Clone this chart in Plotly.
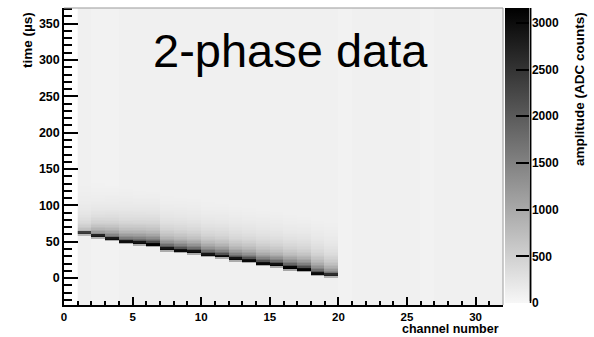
import numpy as np
import plotly.graph_objects as go

# ---------------- data ----------------
channels = list(range(1, 32))            # channel 0 has no data
baseline = [85, 65, 70, 90, 85, 90, 85, 90, 90, 85, 90, 90, 85, 90, 90,
            85, 90, 90, 90, 65, 90, 85, 90, 90, 85, 65, 90, 85, 90, 90, 85]
peak_channels = list(range(1, 20))
peak_time = [61.4, 56.9, 53.2, 50.0, 47.2, 44.5, 39.9, 37.1, 34.9, 31.6,
             28.4, 24.8, 22.5, 19.7, 16.5, 13.3, 10.1, 5.9, 2.8]
peak_amp = [2400, 2800, 2900, 2900, 2950, 3150, 2950, 2950, 2950, 2950,
            2950, 2950, 2950, 3000, 3000, 3150, 3050, 2950, 2600]
tail_scale = [0.45, 0.7, 0.85, 0.9, 1.0, 1.0, 1.0, 1.0, 1.0, 1.0,
              1.0, 1.0, 1.0, 1.0, 1.0, 1.0, 1.0, 1.0, 0.9]
# pulse shape (relative amplitude) per 2 us bin, starting 1 bin before the peak
pulse_profile = [0.3, 1.0, 0.95, 0.68, 0.56, 0.47, 0.4, 0.35, 0.3, 0.26, 0.23,
                 0.2, 0.18, 0.16, 0.14, 0.125, 0.11, 0.1, 0.09, 0.08, 0.072,
                 0.064, 0.057, 0.05, 0.045, 0.04, 0.035, 0.031, 0.027, 0.024,
                 0.021, 0.018, 0.015, 0.012, 0.01, 0.008, 0.006, 0.004]
time_bins = list(np.arange(-39.0, 380.0, 2.0))   # bin centres (us)

x_ticks = [0, 5, 10, 15, 20, 25, 30]
y_ticks = [0, 50, 100, 150, 200, 250, 300, 350]
cb_ticks = [0, 500, 1000, 1500, 2000, 2500, 3000]

# ---------------- build histogram ----------------
tb = np.array(time_bins)
z = np.zeros((len(time_bins), len(channels)))
for j, ch in enumerate(channels):
    z[:, j] = baseline[j]
for k, ch in enumerate(peak_channels):
    j = channels.index(ch)
    pbin = int(np.argmin(np.abs(tb - peak_time[k])))
    for o, rel in enumerate(pulse_profile):
        i = pbin - 1 + o
        if 0 <= i < len(time_bins):
            r = rel if o <= 2 else rel * tail_scale[k]
            z[i, j] += peak_amp[k] * r

FONT = "Liberation Sans"
fig = go.Figure()
fig.add_trace(go.Heatmap(
    x=[c + 0.5 for c in channels], y=time_bins, z=z,
    zmin=0, zmax=3160,
    colorscale=[[0, "rgb(247,247,247)"], [1, "rgb(0,0,0)"]],
    colorbar=dict(
        thickness=24, thicknessmode="pixels", len=295, lenmode="pixels",
        x=(505 - 64) / 439, xanchor="left", xpad=0,
        y=1, yanchor="top", ypad=0, outlinewidth=0,
        tickvals=cb_ticks, ticks="inside", ticklen=13, tickwidth=1.5,
        tickcolor="black",
        tickfont=dict(family=FONT, size=12, color="black", weight="bold"),
    ),
))

W, H = 594, 337
cb_line_x = (530.5 - 64) / 439
fig.update_layout(
    width=W, height=H,
    margin=dict(l=64, r=91, t=8, b=32),
    paper_bgcolor="white", plot_bgcolor="white",
    xaxis=dict(range=[0, 32], tickvals=x_ticks, ticks="inside", ticklen=8,
               tickwidth=1.5, tickcolor="black", showline=True, linecolor="black",
               linewidth=1.5, showgrid=False, zeroline=False,
               minor=dict(dtick=1, ticks="inside", ticklen=4, tickwidth=1.5,
                          tickcolor="black", showgrid=False),
               tickfont=dict(family=FONT, size=11.5, color="black", weight="bold")),
    yaxis=dict(range=[-37, 371.5], tickvals=y_ticks, ticks="inside", ticklen=14,
               tickwidth=1.5, tickcolor="black", showline=True, linecolor="black",
               linewidth=1.5, showgrid=False, zeroline=False,
               minor=dict(dtick=10, ticks="inside", ticklen=8, tickwidth=1.5,
                          tickcolor="black", showgrid=False),
               tickfont=dict(family=FONT, size=12.5, color="black", weight="bold")),
    shapes=[
        dict(type="line", xref="paper", yref="paper", x0=0, x1=1, y0=1, y1=1,
             line=dict(color="#999999", width=1)),
        dict(type="line", xref="paper", yref="paper", x0=1, x1=1, y0=0, y1=1,
             line=dict(color="#999999", width=1)),
        dict(type="line", xref="paper", yref="paper", x0=cb_line_x,
             x1=cb_line_x, y0=2 / 297, y1=1,
             line=dict(color="black", width=1.5)),
    ],
    annotations=[
        dict(text="2-phase data", xref="paper", yref="paper", x=0.515,
             y=(305 - 22) / 297, xanchor="center", yanchor="top", showarrow=False,
             font=dict(family=FONT, size=47, color="black")),
        dict(text="time (µs)", xref="paper", yref="paper", x=(28 - 64) / 439,
             y=(305 - 10) / 297, xanchor="center", yanchor="top", showarrow=False,
             textangle=-90, font=dict(family=FONT, size=13.5, color="black", weight="bold")),
        dict(text="channel number", xref="paper", yref="paper", x=(501 - 64) / 439,
             y=(305 - 337.5) / 297, xanchor="right", yanchor="bottom", showarrow=False,
             font=dict(family=FONT, size=12.5, color="black", weight="bold")),
        dict(text="amplitude (ADC counts)", xref="paper", yref="paper",
             x=(580 - 64) / 439, y=(305 - 10) / 297, xanchor="center", yanchor="top",
             showarrow=False, textangle=-90,
             font=dict(family=FONT, size=13.5, color="black", weight="bold")),
        dict(text=" ", xref="paper", yref="paper", x=cb_line_x, y=1,
             ax=0, ay=295, axref="pixel", ayref="pixel",
             showarrow=True, arrowhead=0, arrowwidth=1.5, arrowcolor="black",
             standoff=0, startstandoff=0, font=dict(size=1)),
    ],
)
fig.write_html("out.html")
